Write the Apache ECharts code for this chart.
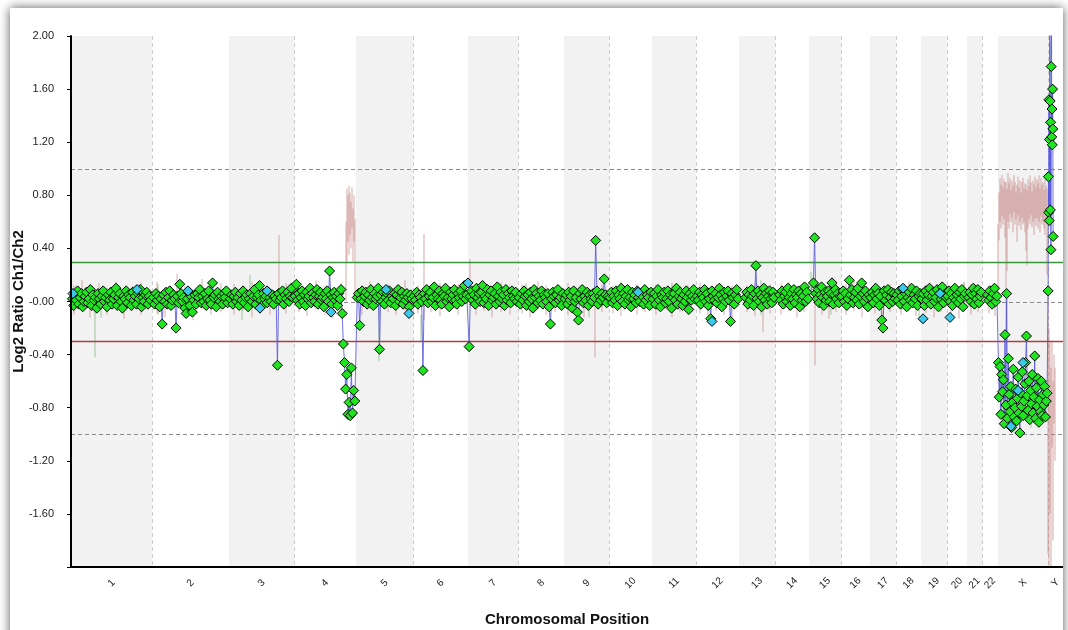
<!DOCTYPE html>
<html>
<head>
<meta charset="utf-8">
<title>Log2 Ratio Ch1/Ch2</title>
<script src="https://cdn.jsdelivr.net/npm/echarts@6/dist/echarts.min.js"></script>
<style>
  html, body { margin: 0; padding: 0; background: #fff; overflow: hidden; }
  #card { position: absolute; left: 10px; top: 8px; width: 1053px; height: 640px; background: #fff;
          box-shadow: 0 0 10px rgba(0, 0, 0, 0.65); }
  #main { width: 100%; height: 100%; }
</style>
</head>
<body>
<div id="card"><div id="main"></div></div>
<script>
// chromosomes, lengths in scaled genome units
var chrNames = ['1','2','3','4','5','6','7','8','9','10','11','12','13','14','15','16','17','18','19','20','21','22','X','Y'];
var chrLength = [81,77,65,62,57,55,50,46,45,43,44,43,36,34,32,29,26,25,26,20,15,16,50,15];
// part of each chromosome covered by probes (fraction from start)
var probeCoverage = [[0.01,0.99],[0.01,0.99],[0.01,0.99],[0.01,0.99],[0.01,0.99],[0.01,0.99],[0.01,0.99],[0.01,0.99],
  [0.01,0.99],[0.01,0.99],[0.01,0.99],[0.01,0.99],[0.17,0.99],[0.12,0.99],[0.12,0.99],[0.01,0.99],[0.01,0.99],
  [0.01,0.99],[0.01,0.99],[0.01,0.95],[0.08,0.99],[0.3,0.97],[0.0,0.99],[0.0,0.35]];

// log2 ratio per probe, in genome order
var chr1Ratio = [.02,-.03,.05,.01,.08,-.02,.03,.06,-.04,.00,.04,.07,-.01,.02,.09,-.03,.05,.01,.03,-.05,.06,.02,-.02,.04,.08,.00,.03,-.04,.05,.01,.07,-.02,.02,.05,.10,-.03,.03,.06,.00,-.05,.04,.02,.08,-.01,.05,.03,-.03,.07,.01,.04,-.02,.06,.02,.09,-.04,.03,.00,.05,.07,-.02,.04,.01];
var chr2Ratio = [.03,-.02,.06,.01,.04,-.04,.02,-.17,.05,.00,.07,-.02,.03,.08,-.03,.01,.05,.02,-.20,.04,-.01,.13,.06,.00,.03,-.05,-.09,.02,.07,-.03,.04,-.08,.01,.05,-.02,.06,.03,.09,-.01,.04,.00,.06,-.03,.02,.08,.01,-.02,.14,.03,.05,-.04,.07,.02,.00,.04,-.02,.06,.03,.08,-.01];
var chr3Ratio = [.02,.05,-.02,.04,.07,.00,.03,-.03,.06,.01,.08,-.01,.03,.05,-.04,.02,.06,.00,.04,.09,-.02,.03,.05,.12,.01,-.03,.06,.02,.04,-.01,.07,.03,.00,.05,-.02,.04,.02,-.48,.06,.01,.03,.08,-.02,.05,.02,.07,.00,.04,.10,.03];
var chr4Ratio = [.04,.13,.01,.06,-.02,.03,.08,.00,.05,-.03,.07,.02,.04,.10,-.01,.06,.03,.00,.05,.09,-.02,.04,.07,.01,.03,-.04,.06,.02,.08,.00,.23,.05,-.02,.03,.07,.01,.04,-.03,.06,.02,.09,-.09,-.32,-.46,-.66,-.55,-.85,-.76,-.86,-.50,-.84,-.67,-.75];
var chr5Ratio = [.03,.06,-.18,.02,.08,.00,.04,.07,-.02,.05,.01,.09,.03,-.03,.06,.02,.04,.10,-.36,.05,.00,.07,-.02,.03,.06,.01,.08,-.01,.04,.02,.06,-.03,.05,.09,.00,.03,.07,-.02,.04,.01,.06,.03,-.04,.05,.02];
var chr6Ratio = [.04,.01,.07,-.02,.05,.03,.00,-.52,.06,.02,.09,-.01,.04,.07,.00,.03,.11,-.03,.05,.02,.08,.01,-.02,.06,.04,.10,.00,.03,-.04,.07,.02,.05,.09,.01,-.02,.06,.03,.08,.00,.04,.12,.02,.05];
var chr7Ratio = [-.34,.04,.08,.01,.05,-.02,.10,.03,.06,.00,.07,.12,-.01,.04,.02,.09,-.03,.05,.08,.01,.03,.06,-.02,.11,.04,.00,.07,.02,.05,-.03,.09,.01,.06,.03,-.01,.08,.04,.02,.07,.00];
var chr8Ratio = [.03,-.02,.06,.01,.08,.04,-.03,.05,.00,.07,.02,-.05,.09,.03,.06,-.01,.04,.01,.08,-.02,.05,.03,.00,.06,-.04,-.17,.02,.07,.04,-.01,.05,.09,.01,.03,-.03,.06];
var chr9Ratio = [.02,.05,-.02,.07,.01,.04,-.05,.08,.00,.03,-.08,-.14,.06,.02,.09,-.01,.04,.01,.07,-.03,.05,.02,.00,.06,.03,.46,.08,-.02,.04,.01,.06,.03,.17,.05,-.01,.04];
var chr10Ratio = [.03,.07,-.01,.04,.01,.08,-.03,.05,.02,.10,.00,.06,-.02,.04,.09,.01,.03,-.04,.07,.02,.05,-.01,.08,.03,.00,.06,.04,-.02,.09,.01,.05,.03,-.03,.07];
var chr11Ratio = [.02,.06,-.02,.04,.09,.01,-.04,.05,.03,.07,-.01,.02,.08,.00,.05,-.05,.03,.06,.01,.10,-.02,.04,.07,.02,-.03,.05,.00,.08,.03,-.06,.06,.01,.04,.09,.02];
var chr12Ratio = [.04,.01,.07,-.02,.05,.03,.09,.00,.06,-.03,.02,-.13,.08,.04,.01,.06,-.01,.03,.10,.05,-.04,.02,.07,.00,.04,.08,.01,-.15,.06,.03,-.02,.05,.09,.02];
var chr13Ratio = [.03,.07,-.02,.05,.01,.09,.04,-.03,.06,.27,.02,.08,.00,.05,-.04,.03,.10,.01,.06,-.02,.04,.08,.02,-.01,.07,.03];
var chr14Ratio = [.05,.01,.08,-.02,.04,.07,.00,.10,.03,-.03,.06,.02,.09,-.01,.05,.03,.08,-.04,.06,.01,.04,.11,.00,.07,.02];
var chr15Ratio = [.14,.48,.06,.02,.09,-.01,.05,.11,.03,-.03,.07,.01,.04,.08,.00,.06,.14,-.02,.05,.09,.02,.06,-.01,.04];
var chr16Ratio = [.04,.08,.00,.06,-.03,.02,.16,.05,.09,-.01,.03,.07,.01,.10,-.02,.04,.14,.06,.00,.08,.03,-.04,.05];
var chr17Ratio = [.03,.07,-.01,.05,.10,.02,.06,-.03,.04,-.14,-.20,.08,.01,.05,.09,-.02,.03,.07,.00,.06,.02];
var chr18Ratio = [.05,.01,.08,-.02,.04,.09,.00,.06,-.04,.03,.07,.01,.10,-.01,.05,.02,.08,-.03,.04,.06];
var chr19Ratio = [.02,.06,-.03,.08,.01,.05,.10,-.02,.04,.07,.00,.03,.09,-.04,.06,.02,.11,-.01,.05,.03];
var chr20Ratio = [.04,.08,.00,.06,-.03,.03,.10,.01,.05,-.01,.07,.02,.09,-.04,.04,.06];
var chr21Ratio = [.03,.07,.00,.05,.10,-.02,.06,.02,.09,-.01,.04,.07];
var chr22Ratio = [.05,.01,.08,.03,-.02,.06,.10,.00,.04];
var chrXRatio = [-.46,-.72,-.49,-.85,-.55,-.68,-.59,-.92,-.25,-.78,.06,-.88,-.43,-.70,-.83,-.64,-.95,-.76,-.51,-.87,-.80,-.66,-.90,-.73,-.57,-.84,-.99,-.69,-.79,-.53,-.86,-.75,-.62,-.46,-.26,-.71,-.82,-.60,-.89,-.67,-.77,-.55,-.84,-.72,-.41,-.88,-.65,-.79,-.58,-.91,-.74,-.83,-.60,-.86,-.70,-.78,-.64,-.87,-.75,-.69];
var chrYRatio = [.08,.94,.67,1.52,.61,1.22,2.4,1.51,.69,1.35,.39,1.77,2.6,1.24,1.45,1.18,1.60,1.30,.49];

// flagged probes (drawn in cyan): [genome position, log2 ratio]
var flaggedProbes = [[2,.06],[66,.09],[117,.08],[189,-.05],[196,.08],[260,-.08],[315,.09],[338,-.09],[397,.14],
  [567,.07],[641,-.15],[832,.10],[852,-.13],[869,.06],[879,-.12],[952,-.46],[940,-.94],[947,-.67]];

// dye-swap trace (pink): [genome position, low, high]
var dyeSwapRanges = [
  [3,-.10,.12],[11,-.06,.16],[19,-.12,.08],[28,-.08,.14],[36,-.10,.10],[45,-.05,.15],[53,-.13,.09],[62,-.07,.12],[70,-.10,.14],[77,-.06,.10],
  [86,-.09,.15],[94,-.12,.10],[106,-.04,.21],[114,-.10,.12],[122,-.14,.09],[131,-.06,.17],[140,-.10,.11],[150,-.08,.14],
  [163,-.10,.13],[172,-.07,.10],[181,-.12,.15],[190,-.06,.12],[199,-.10,.09],[208,-.02,.50],[215,-.09,.14],
  [228,-.08,.13],[236,-.11,.10],[245,-.06,.16],[254,-.10,.12],[262,-.13,.10],[270,-.07,.14],
  [275,0,.60],[276,.30,.85],[277,.45,.80],[278,.35,.87],[279,.50,.82],[280,.40,.75],[281,.55,.86],[282,.30,.70],[283,.45,.80],[284,.02,.62],
  [291,-.10,.12],[299,-.06,.15],[308,-.12,.10],[317,-.08,.13],[325,-.10,.09],[334,-.07,.16],
  [347,-.09,.12],[353,-.14,.51],[360,-.08,.11],[369,-.11,.14],[378,-.06,.10],[387,-.10,.13],
  [399,-.04,.32],[405,-.10,.12],[413,-.07,.15],[421,-.12,.10],[430,-.08,.14],[439,-.10,.11],
  [451,-.09,.13],[459,-.12,.10],[467,-.06,.15],[475,-.10,.12],[484,-.08,.11],
  [497,-.10,.14],[505,-.07,.11],[513,-.12,.10],[524,-.42,.04],[531,-.08,.13],
  [542,-.09,.12],[550,-.11,.15],[558,-.07,.10],[566,-.10,.13],[574,-.08,.11],
  [585,-.10,.13],[593,-.06,.11],[601,-.12,.14],[609,-.08,.10],[617,-.10,.12],
  [629,-.09,.14],[637,-.12,.10],[645,-.07,.13],[653,-.10,.11],[661,-.13,.12],
  [676,-.08,.12],[684,-.11,.14],[692,-.23,.10],[699,-.09,.13],
  [710,-.10,.13],[718,-.07,.15],[726,-.12,.11],[733,-.08,.14],
  [744,-.48,.05],[751,-.10,.14],[758,-.13,.11],[765,-.08,.16],
  [775,-.10,.13],[783,-.07,.16],[791,-.12,.11],
  [804,-.09,.14],[812,-.12,.10],[819,-.08,.13],
  [830,-.10,.12],[838,-.07,.15],[845,-.11,.10],
  [855,-.09,.13],[863,-.12,.11],[870,-.08,.14],
  [880,-.10,.12],[888,-.13,.10],[893,-.07,.15],
  [900,-.10,.13],[907,-.08,.11],[918,-.09,.12],[924,-.11,.10],
  [927,.02,.58],[928,.46,.82],[929,.60,.93],[930,.55,.88],[931,.64,.95],[932,.58,.86],[933,.62,.92],[934,.48,.90],[935,-.28,.90],
  [936,.23,.85],[937,.60,.97],[938,.55,.89],[939,.66,.93],[940,.60,.84],[941,.63,.91],[942,.52,.87],[943,.67,.95],[944,.58,.90],
  [945,.62,.83],[946,.45,.88],[947,.65,.94],[948,.57,.86],[949,.60,.91],[950,.54,.82],[951,.63,.90],[952,.58,.93],[953,.60,.85],
  [954,.52,.89],[955,.38,.88],[956,.27,.84],[957,.55,.92],[958,.62,.87],[959,.58,.95],[960,.65,.90],[961,.56,.83],[962,.60,.91],
  [963,.50,.88],[964,.62,.94],[965,.57,.86],[966,.63,.92],[967,.55,.89],[968,.60,.95],[969,.52,.85],[970,.64,.93],[971,.58,.88],
  [972,.60,.90],[973,.55,.84],[974,.50,.92],[975,.60,.87],[976,.20,.85],
  [977,-1.9,.05],[978,-2.1,-.20],[979,-1.6,-.30],[980,-2.1,-.50],[981,-1.1,-.30],[982,-1.8,-.60],[983,-.92,-.40],[984,-1.2,-.50]
];

// replicate trace (green): [genome position, low, high]
var replicateRanges = [[24,-.42,.02],[30,-.12,.10],[87,-.10,.13],[171,-.14,.08],[179,0,.20],[308,-.45,0],[350,-.30,-.10],
  [455,-.06,.14],[518,-.12,.08],[690,-.10,.16],[740,.05,.22],[760,-.10,.14],[848,-.12,.10],[893,.05,.14],
  [932,-.90,-.60],[960,-.95,-.55],[979,1.55,1.95],[980,.90,1.20]];

// horizontal reference levels: [log2 ratio, colour, dashed]
var referenceLevels = [[1, '#8a8a8a', true], [0, '#8a8a8a', true], [-1, '#8a8a8a', true],
  [0.3, '#3a963a', false], [-0.3, '#b43c3c', false]];

var ratioByChr = [chr1Ratio, chr2Ratio, chr3Ratio, chr4Ratio, chr5Ratio, chr6Ratio, chr7Ratio, chr8Ratio, chr9Ratio,
  chr10Ratio, chr11Ratio, chr12Ratio, chr13Ratio, chr14Ratio, chr15Ratio, chr16Ratio, chr17Ratio, chr18Ratio,
  chr19Ratio, chr20Ratio, chr21Ratio, chr22Ratio, chrXRatio, chrYRatio];

var chrStart = [];
var genomeEnd = 0;
for (var i = 0; i < chrLength.length; i++) {
  chrStart.push(genomeEnd);
  genomeEnd += chrLength[i];
}
var chrMid = chrStart.map(function (s, i) { return s + chrLength[i] / 2; });

// probes placed in order along the covered part of their chromosome
var probes = [];
ratioByChr.forEach(function (vals, c) {
  var cov = probeCoverage[c];
  for (var j = 0; j < vals.length; j++) {
    var f = cov[0] + (cov[1] - cov[0]) * (j + 0.5) / vals.length;
    probes.push([chrStart[c] + chrLength[c] * f, vals[j]]);
  }
});

function rangeSeries(data, color, z) {
  return {
    type: 'custom', data: data, silent: true, clip: true, z: z,
    renderItem: function (params, api) {
      var a = api.coord([api.value(0), api.value(1)]);
      var b = api.coord([api.value(0), api.value(2)]);
      return { type: 'line', shape: { x1: a[0], y1: a[1], x2: b[0], y2: b[1] },
               style: { stroke: color, lineWidth: 1 } };
    }
  };
}

// straight lines across the whole plot at fixed log2 ratios
function levelSeries(levels, z) {
  return {
    type: 'custom', silent: true, z: z,
    data: levels.map(function (l) { return [0, l[0]]; }),
    renderItem: function (params, api) {
      var l = levels[params.dataIndex];
      var a = api.coord([0, l[0]]);
      var b = api.coord([genomeEnd, l[0]]);
      var y = Math.round(a[1]) + 0.5;
      return { type: 'line', shape: { x1: a[0], y1: y, x2: b[0], y2: y },
               style: { stroke: l[1], lineWidth: l[2] ? 1 : 1.3, lineDash: l[2] ? [4, 3] : null } };
    }
  };
}

var chart = echarts.init(document.getElementById('main'));
chart.setOption({
  animation: false,
  grid: { left: 61, top: 28, right: 0, bottom: 81, containLabel: false, outerBoundsMode: 'none' },
  xAxis: {
    type: 'value', min: 0, max: genomeEnd, z: 10,
    axisLine: { show: true, onZero: false, lineStyle: { color: '#000', width: 2 } },
    axisTick: { show: false },
    splitLine: { show: false },
    axisLabel: {
      customValues: chrMid, rotate: 45, align: 'center', verticalAlign: 'middle', margin: 16,
      fontSize: 10, color: '#222', fontFamily: 'Liberation Sans',
      formatter: function (v) {
        var k = 0;
        for (var i = 1; i < chrMid.length; i++) if (Math.abs(chrMid[i] - v) < Math.abs(chrMid[k] - v)) k = i;
        return chrNames[k];
      }
    },
    name: 'Chromosomal Position', nameLocation: 'middle', nameGap: 45, nameMoveOverlap: false,
    nameTextStyle: { fontWeight: 'bold', fontSize: 15, color: '#111', fontFamily: 'Liberation Sans' }
  },
  yAxis: {
    type: 'value', min: -2, max: 2, interval: 0.4, z: 10,
    axisLine: { show: true, onZero: false, lineStyle: { color: '#000', width: 2 } },
    axisTick: { show: true, length: 4, lineStyle: { color: '#000' } },
    splitLine: { show: false },
    axisLabel: {
      fontSize: 11, color: '#222', margin: 17, fontFamily: 'Liberation Sans',
      formatter: function (v) {
        if (v <= -1.99) return '';
        if (Math.abs(v) < 1e-9) return '-0.00';
        return v.toFixed(2);
      }
    },
    name: 'Log2 Ratio Ch1/Ch2', nameLocation: 'middle', nameGap: 45, nameMoveOverlap: false,
    nameTextStyle: { fontWeight: 'bold', fontSize: 15, color: '#111', fontFamily: 'Liberation Sans' }
  },
  series: [
    {
      // alternating chromosome bands and dashed boundaries
      type: 'custom', silent: true, z: 1,
      data: chrStart.map(function (s, i) { return [s, s + chrLength[i], i]; }),
      renderItem: function (params, api) {
        var i = api.value(2);
        var p0 = api.coord([api.value(0), 2]);
        var p1 = api.coord([api.value(1), -2]);
        var children = [];
        if (i % 2 === 0) {
          children.push({ type: 'rect', shape: { x: p0[0], y: p0[1], width: p1[0] - p0[0], height: p1[1] - p0[1] },
                          style: { fill: '#f2f2f2' } });
        }
        if (i < chrLength.length - 1) {
          children.push({ type: 'line', shape: { x1: p1[0] + 0.5, y1: p0[1], x2: p1[0] + 0.5, y2: p1[1] },
                          style: { stroke: '#cdcdcd', lineWidth: 1, lineDash: [4, 3] } });
        }
        return { type: 'group', children: children };
      }
    },
    levelSeries(referenceLevels.slice(0, 3), 1),
    rangeSeries(dyeSwapRanges, 'rgba(192,118,118,0.62)', 2),
    rangeSeries(replicateRanges, 'rgba(90,170,90,0.6)', 2),
    levelSeries(referenceLevels.slice(3), 3),
    {
      type: 'line', data: probes, z: 4, silent: true, showSymbol: false, symbol: 'none', clip: true,
      lineStyle: { color: 'rgba(88,88,220,0.85)', width: 1 }
    },
    {
      type: 'scatter', data: probes, z: 5, symbol: 'diamond', symbolSize: 10, clip: true,
      itemStyle: { color: '#22e322', borderColor: '#000', borderWidth: 1, opacity: 1 }
    },
    {
      type: 'scatter', data: flaggedProbes, z: 6, symbol: 'diamond', symbolSize: 10,
      itemStyle: { color: '#3cc8ea', borderColor: '#000', borderWidth: 1, opacity: 1 }
    }
  ]
});
</script>
</body>
</html>
